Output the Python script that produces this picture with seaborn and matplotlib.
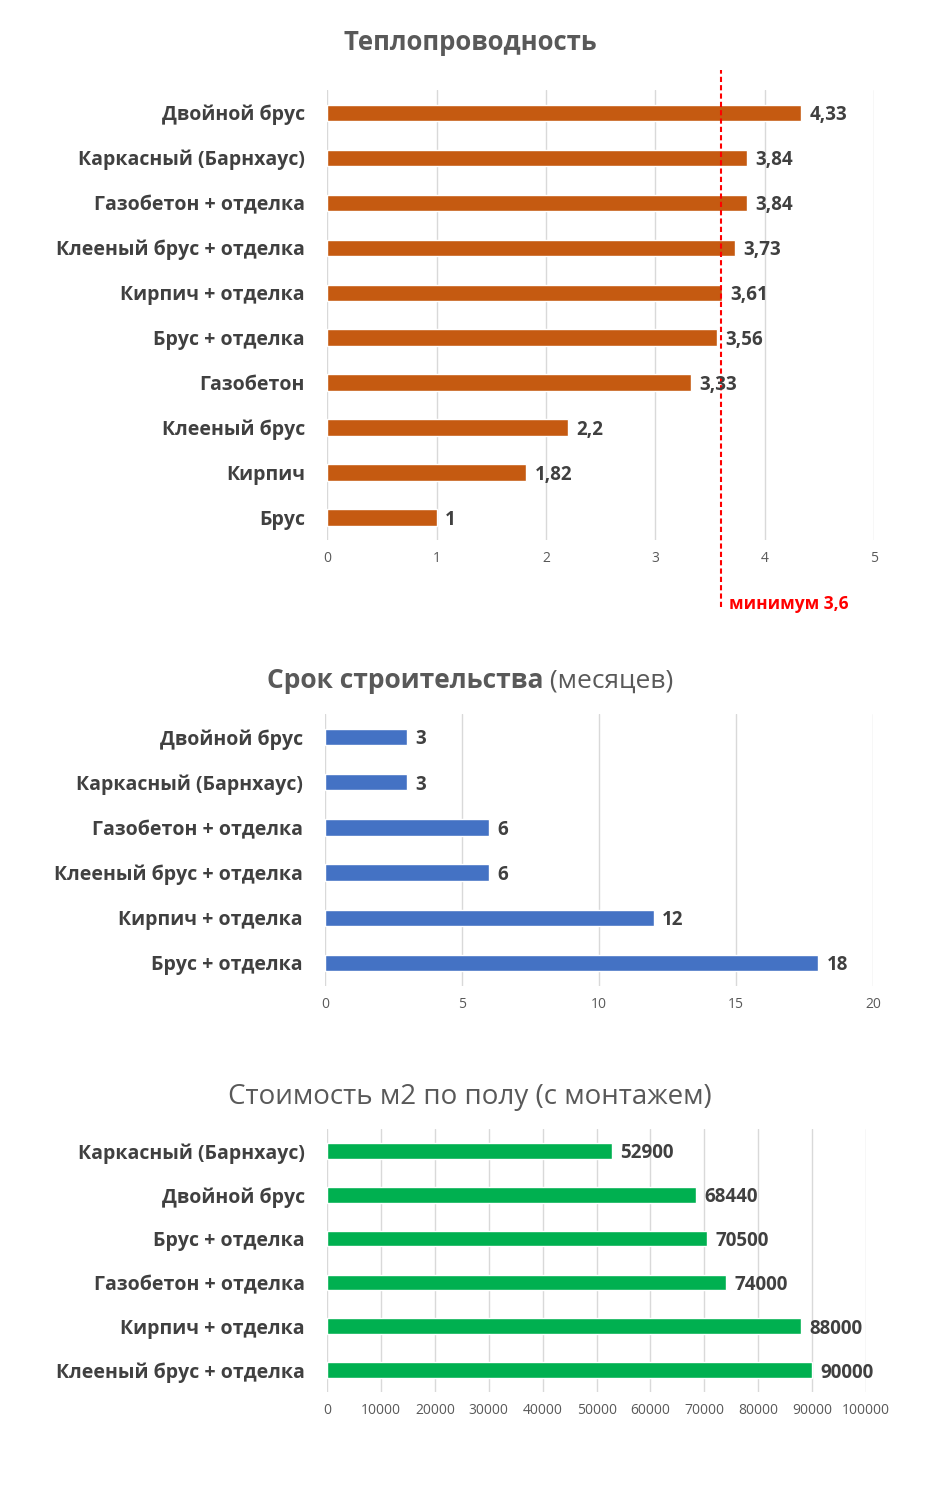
import pandas as pd
import matplotlib
matplotlib.use('Agg')
import matplotlib.pyplot as plt
import seaborn as sns

# Data
heat_labels = ['Двойной брус', 'Каркасный (Барнхаус)', 'Газобетон + отделка',
               'Клееный брус + отделка', 'Кирпич + отделка', 'Брус + отделка',
               'Газобетон', 'Клееный брус', 'Кирпич', 'Брус']
heat_values = [4.33, 3.84, 3.84, 3.73, 3.61, 3.56, 3.33, 2.2, 1.82, 1]
heat_min = 3.6

time_labels = ['Двойной брус', 'Каркасный (Барнхаус)', 'Газобетон + отделка',
               'Клееный брус + отделка', 'Кирпич + отделка', 'Брус + отделка']
time_values = [3, 3, 6, 6, 12, 18]

cost_labels = ['Каркасный (Барнхаус)', 'Двойной брус', 'Брус + отделка',
               'Газобетон + отделка', 'Кирпич + отделка', 'Клееный брус + отделка']
cost_values = [52900, 68440, 70500, 74000, 88000, 90000]

sns.set_theme(style='white')
plt.rcParams['font.family'] = ['Open Sans', 'DejaVu Sans']

TEXT = '#404040'
TITLE = '#595959'
GRID = '#d9d9d9'

fig = plt.figure(figsize=(9.4, 15.04), dpi=100)


def panel(rect, labels, values, color, xmax, step, fmt):
    ax = fig.add_axes(rect)
    df = pd.DataFrame({'cat': labels, 'val': values})
    sns.barplot(data=df, x='val', y='cat', orient='h', color=color,
                width=0.36, saturation=1, ax=ax)
    ax.set_xlim(0, xmax)
    ax.set_ylim(len(labels) - 0.5, -0.5)
    ax.set_xticks([i * step for i in range(int(round(xmax / step)) + 1)])
    ax.xaxis.grid(True, color=GRID, linewidth=1)
    ax.set_axisbelow(True)
    for s in ax.spines.values():
        s.set_visible(False)
    ax.set_xlabel('')
    ax.set_ylabel('')
    ax.tick_params(axis='y', length=0, pad=16, labelsize=14, labelcolor=TEXT)
    ax.tick_params(axis='x', length=0, pad=8, labelsize=10, labelcolor=TITLE)
    for lab in ax.get_yticklabels():
        lab.set_fontweight('bold')
    for i, v in enumerate(values):
        ax.annotate(fmt(v), (v, i), xytext=(6, 0), textcoords='offset points',
                    va='center_baseline', ha='left', fontsize=13.5,
                    fontweight='bold', color=TEXT)
    return ax


def comma(v):
    return f'{v:g}'.replace('.', ',')


ax1 = panel([0.348, 0.641, 0.582, 0.299], heat_labels, heat_values,
            '#C55A11', 5, 1, comma)
ax1.axvline(heat_min, ymin=-0.149, ymax=1.044, color='red', linestyle=(0, (2.5, 1.5)),
            linewidth=1.5, clip_on=False)
ax1.annotate(f'минимум {comma(heat_min)}', (heat_min, 0), xycoords=('data', 'axes fraction'),
             xytext=(6, -45), textcoords='offset points', ha='left', va='center_baseline',
             fontsize=12.5, fontweight='bold', color='red', annotation_clip=False)
fig.text(0.5, 1 - 42 / 1504, 'Теплопроводность', ha='center', va='center',
         fontsize=18.5, fontweight='bold', color=TITLE)

ax2 = panel([0.3457, 0.3447, 0.583, 0.1803], time_labels, time_values,
            '#4472C4', 20, 5, lambda v: f'{v}')

# title with bold and regular parts, centered together
ty = 1 - 681 / 1504
t_bold = fig.text(0, ty, 'Срок строительства', ha='left', va='center',
                  fontsize=19, fontweight='bold', color=TITLE)
t_norm = fig.text(0, ty, ' (месяцев)', ha='left', va='center',
                  fontsize=19, color=TITLE)
r = fig.canvas.get_renderer()
wb = t_bold.get_window_extent(r).width / fig.bbox.width
wn = t_norm.get_window_extent(r).width / fig.bbox.width
x0 = 0.5 - (wb + wn) / 2
t_bold.set_x(x0)
t_norm.set_x(x0 + wb)

ax3 = panel([0.348, 0.0745, 0.5733, 0.1748], cost_labels, cost_values,
            '#00B050', 100000, 10000, lambda v: f'{v}')
fig.text(0.5, 1 - 1097 / 1504, 'Стоимость м2 по полу (с монтажем)', ha='center',
         va='center', fontsize=20, color=TITLE)

fig.savefig('out.png', dpi=100, facecolor='white')
